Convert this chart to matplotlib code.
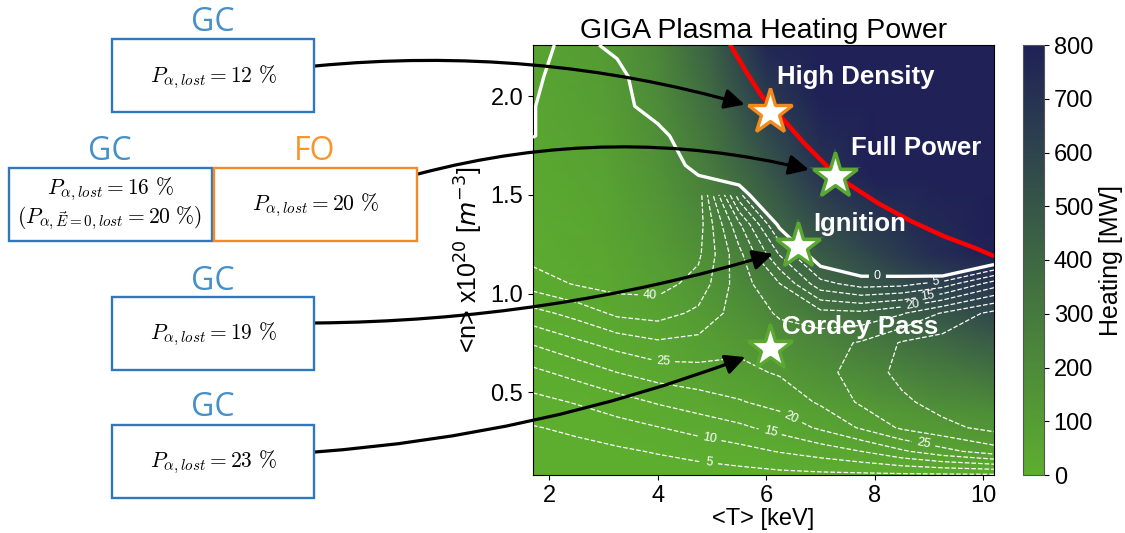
import matplotlib
matplotlib.use("Agg")
import matplotlib.pyplot as plt
import numpy as np
from matplotlib.colors import LinearSegmentedColormap
from matplotlib.patches import Rectangle

plt.rcParams["font.family"] = ["Liberation Sans", "DejaVu Sans"]

W, H = 1125, 533  # canvas size in pixels

# ---- scan grid for the auxiliary power contours ----
T_KEV = [1.7, 2.5, 3.25, 4.0, 4.75, 5.5, 6.25, 7.0, 7.75, 8.5, 9.25, 10.2]
N_20 = [0.08, 0.2, 0.32, 0.45, 0.6, 0.75, 0.9, 1.05, 1.2, 1.35, 1.5, 1.65,
        1.8, 1.95, 2.1, 2.26]

# auxiliary heating needed [MW], one row per density (negative = ignited)
P_AUX = [
    [1.2, 1.4, 1.7, 2.1, 2.6, 3.1, 3.6, 3.9, 4.0, 4.1, 4.2, 4.3],
    [2.9, 3.4, 4.2, 5.4, 6.8, 8.2, 10.3, 12.3, 15, 19.2, 23.3, 27.7],
    [4.7, 6.0, 7.9, 9.8, 11.8, 14, 16.8, 20.8, 25.6, 30.8, 33.6, 36.5],
    [8.3, 10.4, 12.9, 15.5, 17.7, 19.6, 21.8, 25.7, 30.8, 34, 37, 38.5],
    [13.8, 16.8, 20, 22.4, 23.2, 23.7, 25.5, 28.5, 32, 36.5, 38.5, 39.5],
    [20.5, 24, 27, 29.2, 28.5, 26.3, 27, 28, 30.5, 35.5, 37, 38.5],
    [28.3, 31.7, 36.1, 37.1, 33.9, 27.5, 24.5, 21.7, 21.2, 24.5, 30.5, 36.5],
    [37.3, 40.5, 42, 42, 38.2, 27.5, 20, 6.7, 2.8, 3.3, 7, 17.4],
    [42, 43, 44.5, 44.5, 41, 26.5, 9.5, -4.7, -8.3, -10, -20, -9.5],
    [44.5, 45, 46, 46, 42.5, 21, -1.5, -25, -30, -30, -40, -30],
    [46, 46.5, 47, 46.5, 43, 7, -20, -45, -50, -50, -60, -50],
    [45.5, 46.5, 47, 46.5, -22, -14, -40, -60, -65, -70, -75, -70],
    [-3, 46, 46.5, 41, -100, -150, -60, -70, -80, -85, -90, -85],
    [-3, 45.5, 46, -60, -150, -150, -80, -80, -90, -100, -105, -100],
    [-15, 45, 45.5, -120, -150, -150, -80, -90, -100, -110, -115, -115],
    [-43, 44.5, -35, -150, -150, -150, -80, -100, -110, -120, -125, -130],
]
AUX_LEVELS = [5, 10, 15, 20, 25, 30, 35, 40]

# ---- alpha heating power [MW] on a coarser grid ----
HEAT_T = [1.7, 3.0, 4.0, 5.0, 6.0, 7.0, 8.0, 9.0, 10.2]
HEAT_N = [0.08, 0.4, 0.8, 1.2, 1.6, 2.0, 2.26]
HEAT_MW = [
    [0, 0, 1, 2, 3, 5, 7, 9, 12],
    [3, 8, 18, 32, 55, 85, 115, 150, 190],
    [10, 25, 55, 100, 170, 250, 330, 410, 500],
    [20, 45, 100, 190, 320, 470, 600, 720, 830],
    [35, 70, 150, 290, 480, 690, 860, 980, 1100],
    [50, 95, 200, 390, 650, 880, 1050, 1200, 1350],
    [60, 110, 230, 450, 760, 1000, 1200, 1350, 1500],
]

# power limit curve
LIMIT_T = [5.33, 5.64, 5.92, 6.26, 6.69, 7.12, 7.49, 8.05, 8.67, 9.28, 9.84, 10.2]
LIMIT_N = [2.264, 2.12, 2.0, 1.90, 1.765, 1.646, 1.56, 1.46, 1.367, 1.29, 1.232, 1.19]

# operating points
POINT_NAMES = ["High Density", "Full Power", "Ignition", "Cordey Pass"]
POINT_T = [6.07, 7.26, 6.59, 6.07]
POINT_N = [1.92, 1.594, 1.24, 0.726]
POINT_EDGE = ["#f28a1e", "#5aa832", "#5aa832", "#5aa832"]
LABEL_POS = [(6.2, 2.096), (7.57, 1.736), (6.87, 1.35), (6.3, 0.832)]

# lost alpha power for each point (GC = guiding centre, FO = full orbit)
GC_LOST = [12, 16, 19, 23]
GC_LOST_NO_E = 20
FO_LOST = 20

BLUE_EDGE = "#2f78bd"
BLUE_TEXT = "#4690c9"
ORANGE_EDGE = "#f58a27"
ORANGE_TEXT = "#f7962f"

cmap = LinearSegmentedColormap.from_list("heat", ["#5dae2f", "#1f2157"])

fig = plt.figure(figsize=(W / 100, H / 100), dpi=100)
ax = fig.add_axes([533 / W, 1 - 475 / H, (994 - 533) / W, (475 - 45) / H])
cax = fig.add_axes([1023 / W, 1 - 475 / H, 21 / W, (475 - 45) / H])

mesh = ax.pcolormesh(HEAT_T, HEAT_N, np.array(HEAT_MW), shading="gouraud",
                     cmap=cmap, vmin=0, vmax=800, zorder=1)

TT, NN = np.meshgrid(T_KEV, N_20)
Z = np.array(P_AUX, dtype=float)

# ignition boundary
cs0 = ax.contour(TT, NN, Z, levels=[0], colors="white", linewidths=2.4, zorder=3)
ax.clabel(cs0, fmt="%d", fontsize=9, colors="white", inline=True,
          manual=[(8.05, 1.088)])

# no-solution pocket on the cold side of the cliff
Zd = np.ma.masked_where((Z < 0) & (TT < 6), Z)
cs = ax.contour(TT, NN, Zd, levels=AUX_LEVELS, colors="white",
                linewidths=0.9, linestyles="dashed", zorder=2)
ax.clabel(cs, fmt="%d", fontsize=9, colors="white", inline=True,
          manual=[(9.13, 1.054), (8.98, 0.978), (8.7, 0.936), (3.85, 0.96),
                  (4.1, 0.66), (4.96, 0.149), (4.96, 0.269), (6.07, 0.296),
                  (6.44, 0.36), (8.91, 0.25)])

ax.plot(LIMIT_T, LIMIT_N, color="#ff0000", lw=3.2, zorder=4, solid_capstyle="butt")

for name, t, n, edge, (lx, ly) in zip(POINT_NAMES, POINT_T, POINT_N, POINT_EDGE, LABEL_POS):
    if edge != POINT_EDGE[0]:
        ax.plot(t, n, marker="*", ms=40, color=edge, alpha=0.35, mew=0, zorder=5)
    ax.plot(t, n, marker="*", ms=34, mfc="white", mec=edge, mew=2.4, zorder=6)
    ax.text(lx, ly, name, color="white", fontsize=18.5, fontweight="bold",
            ha="left", va="center", zorder=7)

ax.set_xlim(T_KEV[0], T_KEV[-1])
ax.set_ylim(N_20[0], N_20[-1])
ax.set_xticks([2, 4, 6, 8, 10])
ax.set_yticks([0.5, 1.0, 1.5, 2.0])
ax.set_yticklabels(["0.5", "1.0", "1.5", "2.0"])
ax.tick_params(labelsize=17)
ax.set_xlabel("<T> [keV]", fontsize=17, labelpad=1)
ax.set_ylabel(r"<n> x10$^{20}$ [$m^{-3}$]", fontsize=18)
ax.set_title("GIGA Plasma Heating Power", fontsize=20.5, pad=5)

cb = fig.colorbar(mesh, cax=cax, ticks=range(0, 801, 100))
cb.set_label("Heating [MW]", fontsize=18)
cb.ax.tick_params(labelsize=17)
cb.outline.set_edgecolor("#555555")


def fx(x):
    return x / W


def fy(y):
    return 1 - y / H


def box(x0, y0, x1, y1, color):
    fig.add_artist(Rectangle((fx(x0), fy(y1)), (x1 - x0) / W, (y1 - y0) / H,
                             transform=fig.transFigure, fill=False,
                             edgecolor=color, linewidth=1.7))


def tag(x, y, s, color):
    fig.text(fx(x), fy(y), s, color=color, fontsize=23, family="Open Sans",
             ha="center", va="center")


def formula(x, y, s):
    fig.text(fx(x), fy(y), s, fontsize=15.5, math_fontfamily="cm",
             ha="center", va="center")


def lost(p):
    return r"$P_{\alpha,lost} = %d\ \%%$" % p


# left-hand loss boxes
box(112, 39, 314, 112, BLUE_EDGE)
tag(213, 22, "GC", BLUE_TEXT)
formula(213, 77, lost(GC_LOST[0]))

box(9, 168, 212, 241, BLUE_EDGE)
tag(110, 151, "GC", BLUE_TEXT)
formula(110, 189, lost(GC_LOST[1]))
formula(110, 218, r"$(P_{\alpha,\vec{E}=0,lost} = %d\ \%%)$" % GC_LOST_NO_E)

box(214, 168, 417, 241, ORANGE_EDGE)
tag(315, 151, "FO", ORANGE_TEXT)
formula(315, 205, lost(FO_LOST))

box(112, 297, 314, 370, BLUE_EDGE)
tag(213, 281, "GC", BLUE_TEXT)
formula(213, 334, lost(GC_LOST[2]))

box(112, 425, 314, 498, BLUE_EDGE)
tag(213, 408, "GC", BLUE_TEXT)
formula(213, 462, lost(GC_LOST[3]))

# arrows from the boxes to the operating points
starts = [(315, 66), (418, 174), (315, 323), (315, 452)]
bends = [-0.1, -0.135, 0.075, 0.077]
for (sx, sy), rad, t, n in zip(starts, bends, POINT_T, POINT_N):
    ax.annotate("", xy=(t, n), xycoords="data",
                xytext=(fx(sx), fy(sy)), textcoords="figure fraction",
                arrowprops=dict(arrowstyle="-|>,head_length=0.4,head_width=0.2",
                                mutation_scale=30, lw=2.3, color="black",
                                connectionstyle="arc3,rad=%g" % rad,
                                shrinkA=0, shrinkB=19),
                zorder=5, annotation_clip=False)

fig.savefig("out.png", dpi=100)
